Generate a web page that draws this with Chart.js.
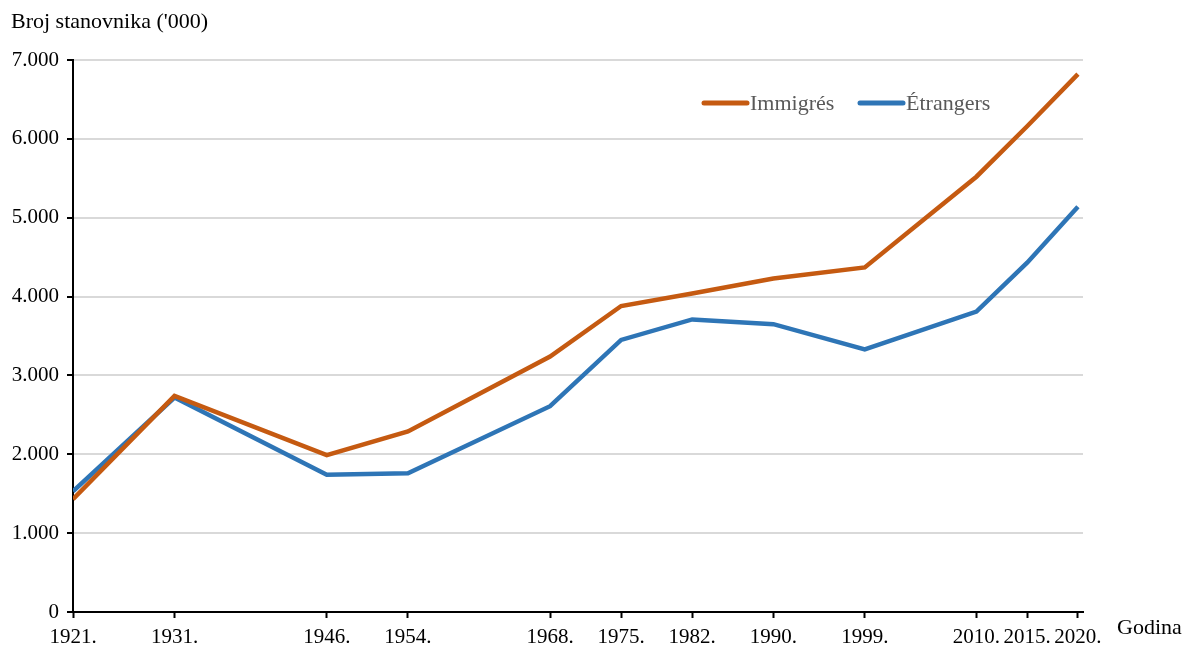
<!DOCTYPE html>
<html>
<head>
<meta charset="utf-8">
<script src="https://cdn.jsdelivr.net/npm/chart.js@4"></script>
<style>
  html, body { margin: 0; padding: 0; background: #fff; }
  canvas { display: block; }
</style>
</head>
<body>
<canvas id="popChart" width="1183" height="646"></canvas>
<script>
// Data (thousands of inhabitants)
const years = [1921, 1931, 1946, 1954, 1968, 1975, 1982, 1990, 1999, 2010, 2015, 2020];
const immigres = [1430, 2740, 1990, 2290, 3240, 3880, 4040, 4230, 4370, 5520, 6160, 6820];
const etrangers = [1530, 2720, 1740, 1760, 2610, 3450, 3710, 3650, 3330, 3810, 4430, 5140];
const yTicks = [0, 1000, 2000, 3000, 4000, 5000, 6000, 7000];

const seriesNames = ['Immigrés', 'Étrangers'];
const seriesColors = ['#C55A11', '#2E75B6'];
const font = "'Liberation Serif', 'Times New Roman', serif";

function toPoints(values) {
    return years.map((yr, i) => ({ x: yr, y: values[i] }));
}

// Title, x-axis name and the legend inside the plot
const extraText = {
    id: 'extraText',
    afterDraw(chart) {
        const c = chart.ctx;
        c.save();
        c.font = '22px ' + font;
        c.fillStyle = '#000';
        c.textBaseline = 'middle';
        c.textAlign = 'left';
        c.fillText("Broj stanovnika ('000)", 11, 22);
        c.fillText('Godina', 1117, 628);

        // legend
        const legendX = [702, 858];
        chart.data.datasets.forEach((ds, i) => {
            const x0 = legendX[i];
            c.strokeStyle = ds.borderColor;
            c.lineWidth = 5;
            c.lineCap = 'round';
            c.beginPath();
            c.moveTo(x0 + 2, 103);
            c.lineTo(x0 + 45, 103);
            c.stroke();
            c.fillStyle = '#595959';
            c.fillText(ds.label, x0 + 48, 104);
        });
        c.restore();
    }
};

const ctx = document.getElementById('popChart').getContext('2d');
const chart = new Chart(ctx, {
    type: 'line',
    data: {
        datasets: [{
            label: seriesNames[0],
            data: toPoints(immigres),
            borderColor: seriesColors[0],
            backgroundColor: seriesColors[0],
            borderWidth: 4.5,
            pointRadius: 0,
            tension: 0,
            fill: false
        }, {
            label: seriesNames[1],
            data: toPoints(etrangers),
            borderColor: seriesColors[1],
            backgroundColor: seriesColors[1],
            borderWidth: 4.5,
            pointRadius: 0,
            tension: 0,
            fill: false
        }]
    },
    options: {
        responsive: false,
        animation: false,
        devicePixelRatio: 1,
        layout: {
            padding: { left: 0, top: 60, right: 100, bottom: 0 }
        },
        plugins: {
            legend: { display: false },
            tooltip: { enabled: false }
        },
        scales: {
            x: {
                type: 'linear',
                min: 1921,
                max: 2020.5,
                afterBuildTicks: (scale) => {
                    scale.ticks = years.map(v => ({ value: v }));
                },
                afterFit: (scale) => { scale.height = 34; },
                ticks: {
                    autoSkip: false,
                    maxRotation: 0,
                    padding: 7,
                    color: '#000',
                    font: { family: font, size: 21 },
                    callback: (v) => v + '.'
                },
                grid: {
                    drawOnChartArea: false,
                    tickColor: '#000',
                    tickLength: 6,
                    tickWidth: 2
                },
                border: { color: '#000', width: 2 }
            },
            y: {
                min: 0,
                max: 7000,
                afterBuildTicks: (scale) => {
                    scale.ticks = yTicks.map(v => ({ value: v }));
                },
                afterFit: (scale) => { scale.width = 73; },
                ticks: {
                    padding: 8,
                    color: '#000',
                    font: { family: font, size: 21 },
                    callback: (v) => v === 0 ? '0' : (v / 1000).toFixed(3)
                },
                grid: {
                    color: '#d9d9d9',
                    lineWidth: 2,
                    tickColor: '#000',
                    tickLength: 6,
                    tickWidth: 2
                },
                border: { color: '#000', width: 2 }
            }
        }
    },
    plugins: [extraText]
});
</script>
</body>
</html>
